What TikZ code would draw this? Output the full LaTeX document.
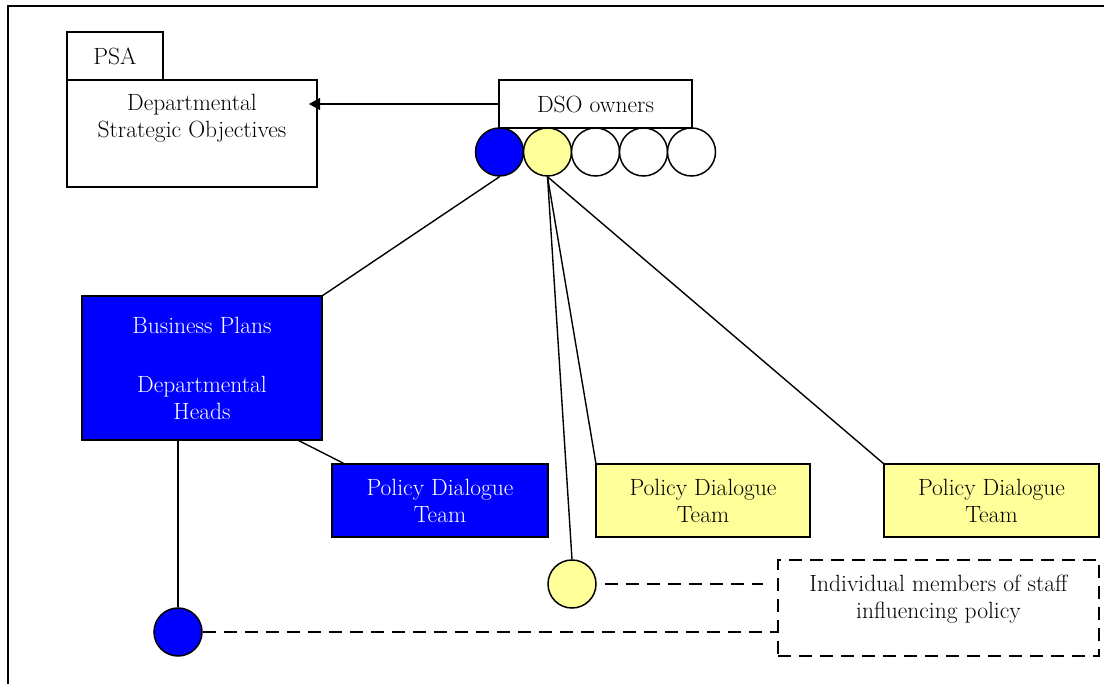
\documentclass[tikz,border=0pt]{standalone}
\usepackage{fontspec}
\usetikzlibrary{arrows.meta}
\definecolor{dsoblue}{RGB}{0,0,255}
\definecolor{dsoyellow}{RGB}{255,255,153}
\tikzset{
  dsobox/.style={draw, line width=1.5pt, inner sep=0pt, outer sep=0pt, align=center},
  dsotop/.style={anchor=north, yshift=-11pt, align=center},
  dsodot/.style={draw, circle, line width=1.5pt, minimum size=48pt, inner sep=0pt},
  dsoline/.style={line width=1.4pt},
  dsoar/.style={-{Triangle[length=11pt,width=12pt]}, line width=1.4pt},
  dsodash/.style={line width=1.5pt, dash pattern=on 13pt off 8pt},
}

\begin{document}
\begin{tikzpicture}[x=1pt,y=-1pt,font=\fontsize{23.5}{27}\selectfont]
  \useasboundingbox (0,0) rectangle (1104,684);
  % frame
  \draw[dsoline] (1104,6) -- (8,6) -- (8,684);

  \node[dsobox, minimum width=96pt, minimum height=48pt] (psa) at (115,56) {PSA};
  \node[dsobox, minimum width=250pt, minimum height=107pt,
        label={[dsotop]north:Departmental\\Strategic Objectives}] (dso) at (192,133.5) {};

  \node[dsobox, minimum width=193pt, minimum height=48pt] (own) at (595.5,104) {DSO owners};
  \node[dsodot, fill=dsoblue] (c1) at (499.5,152) {};
  \node[dsodot, fill=dsoyellow] (c2) at (547.5,152) {};
  \node[dsodot, fill=white] (c3) at (595.5,152) {};
  \node[dsodot, fill=white] (c4) at (643.5,152) {};
  \node[dsodot, fill=white] (c5) at (691.5,152) {};

  \node[dsobox, fill=dsoblue, text=white, minimum width=240pt, minimum height=144pt]
    (plans) at (202,368) {Business Plans\\[32pt]Departmental\\Heads};
  \node[dsobox, fill=dsoblue, text=white, minimum width=216pt, minimum height=73pt]
    (pdtb) at (440,500.5) {Policy Dialogue\\Team};
  \node[dsobox, fill=dsoyellow, minimum width=214pt, minimum height=73pt]
    (pdty1) at (703,500.5) {Policy Dialogue\\Team};
  \node[dsobox, fill=dsoyellow, minimum width=215pt, minimum height=73pt]
    (pdty2) at (991.5,500.5) {Policy Dialogue\\Team};

  \node[dsodot, fill=dsoyellow] (sy) at (572,584) {};
  \node[dsodot, fill=dsoblue] (sb) at (178,632) {};
  \node[dsobox, dsodash, minimum width=321pt, minimum height=96pt,
        label={[dsotop]north:Individual members of staff\\influencing policy}] (staff) at (938.5,608) {};

  % connectors
  \draw[dsoar, shorten >=-8pt] (own.west) -- (own.west -| dso.east);
  \draw[dsoline] (c1.south) -- (plans.north east);
  \draw[dsoline] (c2.south) -- (pdty1.north west);
  \draw[dsoline] (c2.south) -- (pdty2.north west);
  \draw[dsoline] (c2.south) -- (sy.north);
  \draw[dsoline] (plans.-37) -- (pdtb.159);
  \draw[dsoline] (sb.north |- plans.south) -- (sb.north);
  \draw[dsodash, shorten <=8pt, shorten >=15pt] (sy.east) -- (sy.east -| staff.west);
  \draw[dsodash] (sb.east) -- (sb.east -| staff.west);
\end{tikzpicture}
\end{document}
